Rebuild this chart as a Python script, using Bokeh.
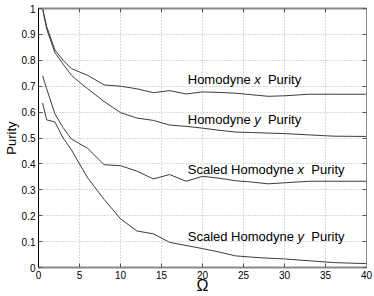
from bokeh.plotting import figure
from bokeh.models import LinearAxis, FixedTicker, Range1d
from bokeh.core.properties import value
from bokeh.embed import file_html
from bokeh.resources import INLINE

# ---- data ----
omega = [0.5, 1, 2, 3, 4, 5, 6, 8, 10, 12, 14, 16, 18, 20, 22, 24, 26, 28, 30, 33, 36, 40]
homodyne_x = [1.0, 0.93, 0.84, 0.80, 0.768, 0.755, 0.742, 0.705, 0.700, 0.690, 0.675, 0.683,
              0.670, 0.678, 0.676, 0.673, 0.667, 0.661, 0.663, 0.669, 0.669, 0.669]
homodyne_y = [1.0, 0.92, 0.83, 0.785, 0.743, 0.715, 0.690, 0.641, 0.598, 0.577, 0.568, 0.550,
              0.545, 0.538, 0.530, 0.523, 0.521, 0.519, 0.517, 0.512, 0.507, 0.506]
scaled_x = [0.74, 0.69, 0.593, 0.54, 0.496, 0.478, 0.460, 0.397, 0.393, 0.372, 0.342, 0.359,
            0.333, 0.352, 0.345, 0.335, 0.330, 0.323, 0.327, 0.333, 0.333, 0.333]
scaled_y = [0.635, 0.57, 0.562, 0.50, 0.455, 0.40, 0.346, 0.263, 0.188, 0.141, 0.130, 0.097,
            0.085, 0.073, 0.060, 0.045, 0.040, 0.036, 0.033, 0.026, 0.019, 0.015]

x_ticks = [0, 5, 10, 15, 20, 25, 30, 35, 40]
x_tick_labels = ["0", "5", "10", "15", "20", "25", "30", "35", "40"]
y_ticks = [0, 0.1, 0.2, 0.3, 0.4, 0.5, 0.6, 0.7, 0.8, 0.9, 1.0]
y_tick_labels = ["0", "0.1", "0.2", "0.3", "0.4", "0.5", "0.6", "0.7", "0.8", "0.9", "1"]

label_prefix = ["Homodyne ", "Homodyne ", "Scaled Homodyne ", "Scaled Homodyne "]
label_var = ["x", "y", "x", "y"]
label_suffix = ["Purity", "Purity", "Purity", "Purity"]
label_x = [18.2, 18.2, 18.2, 18.2]
label_y = [0.724, 0.570, 0.378, 0.120]

FONT = "Liberation Sans"
FS = 13
CW = {'H': .722, 'o': .556, 'm': .833, 'd': .556, 'y': .5, 'n': .556, 'e': .556, ' ': .278,
      'S': .667, 'c': .5, 'a': .556, 'l': .222, 'x': .5, 'P': .667, 'u': .556, 'r': .333,
      'i': .222, 't': .278}


def text_width(s):
    return sum(CW.get(c, .55) for c in s) * FS


p = figure(width=374, height=296, x_range=Range1d(0, 40), y_range=Range1d(0, 1),
           output_backend="svg", toolbar_location=None,
           min_border_left=0, min_border_right=8, min_border_top=8, min_border_bottom=0)
p.background_fill_color = "white"
p.border_fill_color = "white"
p.outline_line_color = "#8a8a8a"
p.outline_line_width = 1

for ax in (p.xaxis[0], p.yaxis[0]):
    ax.major_tick_in = 4
    ax.major_tick_out = 0
    ax.minor_tick_in = 0
    ax.minor_tick_out = 0
    ax.major_label_text_font = FONT
    ax.major_label_text_font_size = "10px"
    ax.major_label_text_color = "black"
    ax.axis_label_text_font = FONT
    ax.axis_label_text_font_style = "normal"
    ax.axis_label_text_color = "black"
    ax.major_tick_line_color = "#555555"

p.xaxis.ticker = FixedTicker(ticks=x_ticks)
p.xaxis.major_label_overrides = dict(zip(x_ticks, x_tick_labels))
p.xaxis.axis_label = "Ω"
p.xaxis.axis_label_text_font_size = "16px"
p.xaxis.axis_label_standoff = -5
p.xaxis.major_label_standoff = 3
p.xaxis.axis_line_color = "#8a8a8a"
p.xaxis.axis_line_width = 2

p.yaxis.ticker = FixedTicker(ticks=y_ticks)
p.yaxis.major_label_overrides = dict(zip(y_ticks, y_tick_labels))
p.yaxis.axis_label = "Purity"
p.yaxis.axis_label_text_font_size = "13px"
p.yaxis.axis_label_standoff = 0
p.yaxis.major_label_standoff = 3
p.yaxis.axis_line_color = "black"
p.yaxis.axis_line_width = 1

top = LinearAxis(ticker=FixedTicker(ticks=x_ticks), major_label_text_font_size="0px",
                 major_label_overrides={t: "" for t in x_ticks},
                 major_label_standoff=0, major_tick_in=4, major_tick_out=0,
                 minor_tick_in=0, minor_tick_out=0, axis_line_color="#8a8a8a",
                 axis_line_width=2, major_tick_line_color="#555555")
right = LinearAxis(ticker=FixedTicker(ticks=y_ticks), major_label_text_font_size="0px",
                   major_label_overrides={t: "" for t in y_ticks},
                   major_label_standoff=0, major_tick_in=4, major_tick_out=0,
                   minor_tick_in=0, minor_tick_out=0, axis_line_color="#8a8a8a",
                   axis_line_width=1, major_tick_line_color="#555555")
p.add_layout(top, "above")
p.add_layout(right, "right")

for g in (p.xgrid[0], p.ygrid[0]):
    g.grid_line_color = "#b5b5b5"
    g.grid_line_dash = "1 2"
    g.grid_line_width = 1
p.xgrid.ticker = FixedTicker(ticks=x_ticks)
p.ygrid.ticker = FixedTicker(ticks=y_ticks)

for series in (homodyne_x, homodyne_y, scaled_x, scaled_y):
    p.line(omega, series, line_color="#3c3c3c", line_width=1)

for pre, var, suf, lx, ly in zip(label_prefix, label_var, label_suffix, label_x, label_y):
    w1 = text_width(pre)
    w2 = w1 + CW[var] * FS + 2 * CW[' '] * FS
    p.text([lx], [ly], text=[pre.rstrip()], text_font=value(FONT), text_font_size=f"{FS}px",
           text_baseline="middle", text_align="left", text_color="black")
    p.text([lx], [ly], text=[var], text_font=value(FONT), text_font_size=f"{FS}px",
           text_font_style="italic", x_offset=w1,
           text_baseline="middle", text_align="left", text_color="black")
    p.text([lx], [ly], text=[suf], text_font=value(FONT), text_font_size=f"{FS}px",
           x_offset=w2, text_baseline="middle", text_align="left", text_color="black")

open("out.html", "w").write(file_html(p, INLINE))
